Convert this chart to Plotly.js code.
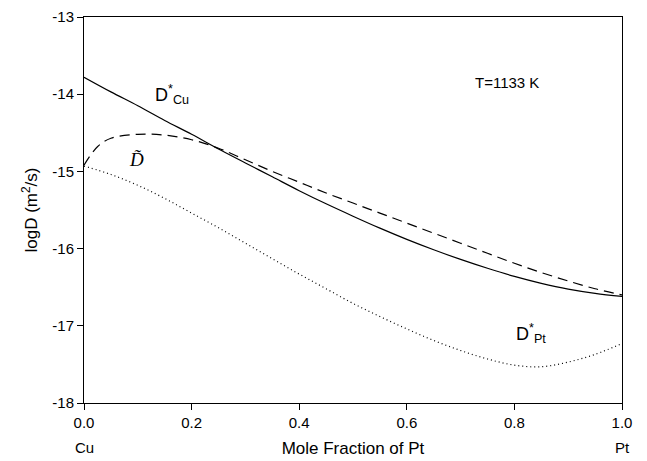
<!DOCTYPE html>
<html>
<head>
<meta charset="utf-8">
<script src="https://cdn.plot.ly/plotly-3.0.1.min.js"></script>
<style>html,body{margin:0;padding:0;background:#fff;}#chart{width:647px;height:461px;}</style>
</head>
<body>
<div id="chart"></div>
<script>
// Mole fraction of Pt
const xCu = [0,0.05,0.1,0.15,0.2,0.25,0.3,0.35,0.4,0.45,0.5,0.55,0.6,0.65,0.7,0.75,0.8,0.85,0.9,0.95,1.0];
// D*Cu (solid)
const logDCu = [-13.78,-13.97,-14.15,-14.34,-14.52,-14.71,-14.89,-15.07,-15.25,-15.42,-15.58,-15.735,-15.88,-16.015,-16.14,-16.255,-16.36,-16.45,-16.525,-16.58,-16.62];
// Interdiffusion D~ (dashed)
const xTilde = [0,0.025,0.05,0.1,0.15,0.2,0.25,0.3,0.35,0.4,0.45,0.5,0.55,0.6,0.65,0.7,0.75,0.8,0.85,0.9,0.95,1.0];
const logDTilde = [-14.92,-14.68,-14.57,-14.52,-14.53,-14.59,-14.70,-14.85,-15.00,-15.14,-15.28,-15.41,-15.54,-15.67,-15.80,-15.93,-16.06,-16.19,-16.31,-16.42,-16.52,-16.60];
// D*Pt (dotted)
const xPt = [0,0.05,0.1,0.15,0.2,0.25,0.3,0.35,0.4,0.45,0.5,0.55,0.6,0.65,0.7,0.75,0.8,0.85,0.9,0.95,1.0];
const logDPt = [-14.93,-15.04,-15.18,-15.35,-15.54,-15.73,-15.93,-16.13,-16.33,-16.52,-16.71,-16.88,-17.04,-17.19,-17.32,-17.43,-17.51,-17.53,-17.47,-17.37,-17.23];

const xTicks = [0,0.2,0.4,0.6,0.8,1.0];
const xTickText = ['0.0','0.2','0.4','0.6','0.8','1.0'];
const yTicks = [-18,-17,-16,-15,-14,-13];
const yTickText = ['-18','-17','-16','-15','-14','-13'];

const FONT = 'Liberation Sans, Arial, sans-serif';

const traces = [
  {x: xCu, y: logDCu, mode: 'lines', line: {color: '#000', width: 1.2, shape: 'spline', dash: 'solid'}, hoverinfo: 'skip'},
  {x: xTilde, y: logDTilde, mode: 'lines', line: {color: '#000', width: 1.2, shape: 'spline', dash: '10px,6px'}, hoverinfo: 'skip'},
  {x: xPt, y: logDPt, mode: 'lines', line: {color: '#000', width: 1.2, shape: 'spline', dash: '1px,3px'}, hoverinfo: 'skip'}
];

const layout = {
  width: 647, height: 461,
  margin: {l: 84, r: 25, t: 17, b: 58},
  paper_bgcolor: '#fff', plot_bgcolor: '#fff',
  showlegend: false,
  font: {family: FONT, color: '#000', size: 15},
  xaxis: {
    range: [0, 1], tickvals: xTicks, ticktext: xTickText,
    ticks: 'outside', ticklen: 6, tickwidth: 1, tickcolor: '#000',
    showline: true, linecolor: '#000', linewidth: 1, mirror: true,
    showgrid: false, zeroline: false,
    tickfont: {family: FONT, size: 15, color: '#000'},
    title: {text: 'Mole Fraction of Pt', font: {family: FONT, size: 17, color: '#000'}, standoff: 12}
  },
  yaxis: {
    range: [-18, -13], tickvals: yTicks, ticktext: yTickText,
    ticks: 'outside', ticklen: 6, tickwidth: 1, tickcolor: '#000',
    showline: true, linecolor: '#000', linewidth: 1, mirror: true,
    showgrid: false, zeroline: false,
    tickfont: {family: FONT, size: 15, color: '#000'},
    title: {text: 'logD (m<sup>2</sup>/s)', font: {family: FONT, size: 17, color: '#000'}, standoff: 10}
  },
  annotations: [
    {xref: 'x', yref: 'paper', x: 0, y: -0.114, text: 'Cu', showarrow: false, xanchor: 'center', yanchor: 'middle', font: {family: FONT, size: 15}},
    {xref: 'x', yref: 'paper', x: 1, y: -0.114, text: 'Pt', showarrow: false, xanchor: 'center', yanchor: 'middle', font: {family: FONT, size: 15}},
    {xref: 'x', yref: 'y', x: 0.787, y: -13.85, text: 'T=1133 K', showarrow: false, xanchor: 'center', yanchor: 'middle', font: {family: FONT, size: 15}},
    {xref: 'x', yref: 'y', x: 0.128, y: -14.0, text: 'D<sup>*</sup><sub>Cu</sub>', showarrow: false, xanchor: 'left', yanchor: 'middle', font: {family: FONT, size: 18}},
    {xref: 'x', yref: 'y', x: 0.08, y: -14.85, text: '<i>D\u0303</i>', showarrow: false, xanchor: 'left', yanchor: 'middle', font: {family: 'Liberation Serif, Times New Roman, serif', size: 19}},
    {xref: 'x', yref: 'y', x: 0.8, y: -17.1, text: 'D<sup>*</sup><sub>Pt</sub>', showarrow: false, xanchor: 'left', yanchor: 'middle', font: {family: FONT, size: 18}}
  ]
};

Plotly.newPlot('chart', traces, layout, {displayModeBar: false, staticPlot: true});
</script>
</body>
</html>
